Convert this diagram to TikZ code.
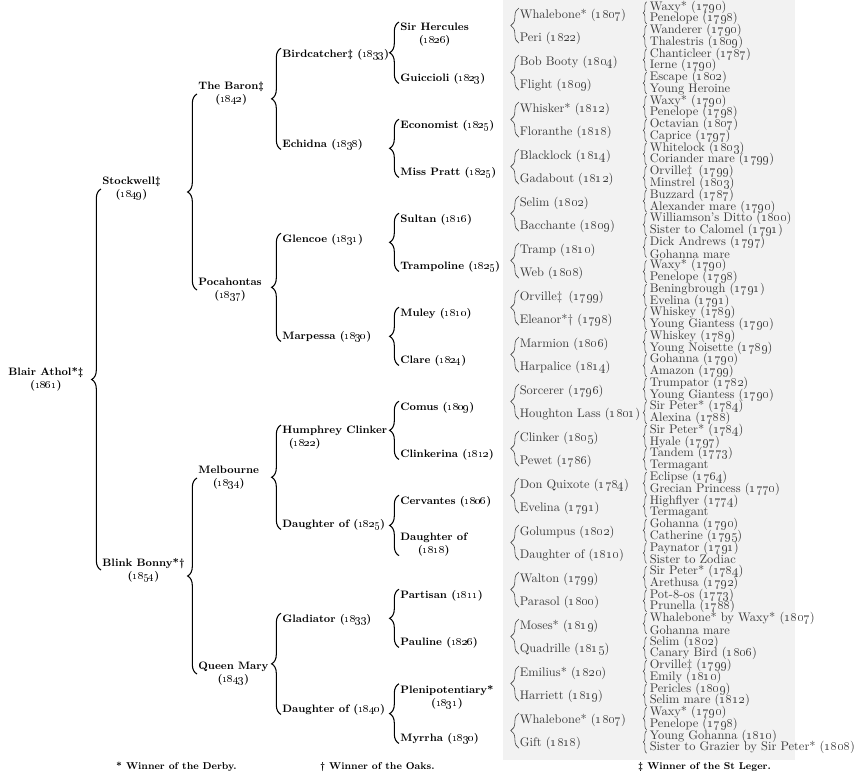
\documentclass[tikz,border=0pt]{standalone}
\usepackage{tikz}
\usetikzlibrary{decorations.pathreplacing}
\definecolor{scangray}{HTML}{3C3C3C}
\definecolor{paper}{HTML}{F2F2F2}
\newcommand{\yr}[1]{(\oldstylenums{#1})}

\begin{document}
\begin{tikzpicture}[x=0.03cm,y=-0.03cm,
  horse/.style={anchor=west,inner sep=1pt,font=\bfseries\fontsize{9.2}{11}\selectfont},
  twoline/.style={horse,align=center},
  faint/.style={anchor=west,inner sep=0.5pt,text=scangray,font=\fontsize{10.6}{10}\selectfont},
  bigbrace/.style={decorate,decoration={brace,amplitude=8pt},line width=0.9pt},
  midbrace/.style={decorate,decoration={brace,amplitude=7pt},draw=scangray,line width=0.5pt},
  tinybrace/.style={decorate,decoration={brace,amplitude=3pt},draw=scangray,line width=0.45pt},
  note/.style={anchor=west,inner sep=0pt,font=\bfseries\fontsize{8.5}{10}\selectfont}]

  \useasboundingbox (0,0) rectangle (858,775);
  \fill[paper] (503,0) rectangle (795,760);

  % sire line and dam line
  \node[twoline] (a1) at (7,379) {Blair Athol*\ddag\\\yr{1861}};

  \node[twoline] (b1) at (101,189) {Stockwell\ddag\\\yr{1849}};
  \node[twoline] (b2) at (101,570) {Blink Bonny*\dag\\\yr{1854}};

  \node[twoline] (c1) at (197,94)  {The Baron\ddag\\\yr{1842}};
  \node[twoline] (c2) at (197,290) {Pocahontas\\\yr{1837}};
  \node[twoline] (c3) at (197,478) {Melbourne\\\yr{1834}};
  \node[twoline] (c4) at (197,674) {Queen Mary\\\yr{1843}};

  \node[horse] (d1) at (281,55)  {Birdcatcher\ddag{} \yr{1833}};
  \node[horse] (d2) at (281,145) {Echidna \yr{1838}};
  \node[horse] (d3) at (281,240) {Glencoe \yr{1831}};
  \node[horse] (d4) at (281,337) {Marpessa \yr{1830}};
  \node[horse,align=left] (d5) at (281,438) {Humphrey Clinker\\\hspace*{0.6em}\yr{1822}};
  \node[horse] (d6) at (281,525) {Daughter of \yr{1825}};
  \node[horse] (d7) at (281,620) {Gladiator \yr{1833}};
  \node[horse] (d8) at (281,710) {Daughter of \yr{1840}};

  \node[twoline] (e1) at (399,35) {Sir Hercules\\\yr{1826}};
  \node[horse] (e2) at (399,79)  {Guiccioli \yr{1823}};
  \node[horse] (e3) at (399,126) {Economist \yr{1825}};
  \node[horse] (e4) at (399,173) {Miss Pratt \yr{1825}};
  \node[horse] (e5) at (399,220) {Sultan \yr{1816}};
  \node[horse] (e6) at (399,267) {Trampoline \yr{1825}};
  \node[horse] (e7) at (399,314) {Muley \yr{1810}};
  \node[horse] (e8) at (399,361) {Clare \yr{1824}};
  \node[horse] (e9) at (399,408) {Comus \yr{1809}};
  \node[horse] (e10) at (399,455) {Clinkerina \yr{1812}};
  \node[horse] (e11) at (399,502) {Cervantes \yr{1806}};
  \node[twoline] (e12) at (399,545) {Daughter of\\\yr{1818}};
  \node[horse] (e13) at (399,596) {Partisan \yr{1811}};
  \node[horse] (e14) at (399,643) {Pauline \yr{1826}};
  \node[twoline] (e15) at (399,697) {Plenipotentiary*\\\yr{1831}};
  \node[horse] (e16) at (399,739) {Myrrha \yr{1830}};

  \foreach \nm [count=\j] in {Whalebone* \yr{1807},Peri \yr{1822},Bob Booty \yr{1804},Flight \yr{1809},
    Whisker* \yr{1812},Floranthe \yr{1818},Blacklock \yr{1814},Gadabout \yr{1812},
    Selim \yr{1802},Bacchante \yr{1809},Tramp \yr{1810},Web \yr{1808},
    Orville\ddag\enspace\yr{1799},Eleanor*\dag{} \yr{1798},Marmion \yr{1806},Harpalice \yr{1814},
    Sorcerer \yr{1796},Houghton Lass \yr{1801},Clinker \yr{1805},Pewet \yr{1786},
    Don Quixote \yr{1784},Evelina \yr{1791},Golumpus \yr{1802},Daughter of \yr{1810},
    Walton \yr{1799},Parasol \yr{1800},Moses* \yr{1819},Quadrille \yr{1815},
    Emilius* \yr{1820},Harriett \yr{1819},Whalebone* \yr{1807},Gift \yr{1818}}
    \node[faint] (f\j) at (519,{15+23.5*(\j-1)}) {\ignorespaces\nm};

  \foreach \nm [count=\i] in {Waxy* \yr{1790},Penelope \yr{1798},Wanderer \yr{1790},Thalestris \yr{1809},
    Chanticleer \yr{1787},Ierne \yr{1790},Escape \yr{1802},Young Heroine,
    Waxy* \yr{1790},Penelope \yr{1798},Octavian \yr{1807},Caprice \yr{1797},
    Whitelock \yr{1803},Coriander mare \yr{1799},Orville\ddag\enspace\yr{1799},Minstrel \yr{1803},
    Buzzard \yr{1787},Alexander mare \yr{1790},Williamson's Ditto \yr{1800},Sister to Calomel \yr{1791},
    Dick Andrews \yr{1797},Gohanna mare,Waxy* \yr{1790},Penelope \yr{1798},
    Beningbrough \yr{1791},Evelina \yr{1791},Whiskey \yr{1789},Young Giantess \yr{1790},
    Whiskey \yr{1789},Young Noisette \yr{1789},Gohanna \yr{1790},Amazon \yr{1799},
    Trumpator \yr{1782},Young Giantess \yr{1790},Sir Peter* \yr{1784},Alexina \yr{1788},
    Sir Peter* \yr{1784},Hyale \yr{1797},Tandem \yr{1773},Termagant,
    Eclipse \yr{1764},Grecian Princess \yr{1770},Highflyer \yr{1774},Termagant,
    Gohanna \yr{1790},Catherine \yr{1795},Paynator \yr{1791},Sister to Zodiac,
    Sir Peter* \yr{1784},Arethusa \yr{1792},Pot-8-os \yr{1773},Prunella \yr{1788},
    Whalebone* by Waxy* \yr{1807},Gohanna mare,Selim \yr{1802},Canary Bird \yr{1806},
    Orville\ddag{} \yr{1799},Emily \yr{1810},Pericles \yr{1809},Selim mare \yr{1812},
    Waxy* \yr{1790},Penelope \yr{1798},Young Gohanna \yr{1810},Sister to Grazier by Sir Peter* \yr{1808}}
    \node[faint] (g\i) at (649,{7+11.76*(\i-1)}) {\ignorespaces\nm};

  % braces: dam below, sire above
  \draw[bigbrace] (b2.west) -- (b1.west);
  \draw[bigbrace] (c2.west) -- (c1.west);
  \draw[bigbrace] (c4.west) -- (c3.west);
  \foreach \k in {1,...,4} {
    \pgfmathtruncatemacro\ka{2*\k-1}
    \pgfmathtruncatemacro\kb{2*\k}
    \draw[bigbrace] ([yshift=2pt]d\kb.south west) -- (d\ka.north west);
  }
  \foreach \k in {1,...,8} {
    \pgfmathtruncatemacro\ka{2*\k-1}
    \pgfmathtruncatemacro\kb{2*\k}
    \draw[bigbrace] ([yshift=2pt]e\kb.south west) -- (e\ka.north west);
  }
  \foreach \k in {1,...,16} {
    \pgfmathtruncatemacro\ka{2*\k-1}
    \pgfmathtruncatemacro\kb{2*\k}
    \draw[midbrace] ([yshift=2pt]f\kb.south west) -- (f\ka.north west);
  }
  \foreach \k in {1,...,32} {
    \pgfmathtruncatemacro\ka{2*\k-1}
    \pgfmathtruncatemacro\kb{2*\k}
    \draw[tinybrace] ([xshift=-2pt,yshift=1.5pt]g\kb.south west) -- ([xshift=-2pt,yshift=-1.5pt]g\ka.north west);
  }

  \node[note] (derby) at (116,767) {* Winner of the Derby.};
  \node[note] (oaks) at (320,767) {\dag\ Winner of the Oaks.};
  \node[note] (leger) at (638,767) {\ddag\ Winner of the St Leger.};
\end{tikzpicture}
\end{document}
